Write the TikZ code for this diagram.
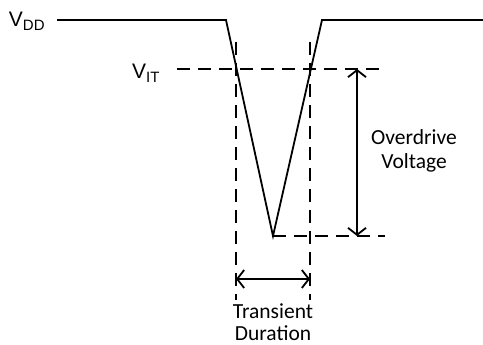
\documentclass[tikz,border=0pt]{standalone}
\usepackage{fontspec}
\setmainfont{Carlito}
\newfontfamily\arialf{Liberation Sans}
\usetikzlibrary{arrows.meta}
\tikzset{
  sig/.style={line width=1.8pt, line join=miter},
  dsh/.style={line width=1.8pt, dash pattern=on 13pt off 8pt},
  dim/.style={line width=1.8pt, {Straight Barb[length=7pt,width=18pt]}-{Straight Barb[length=7pt,width=18pt]}},
  lbl/.style={font=\fontsize{21.5}{23}\selectfont, align=center, inner sep=0pt},
  vlbl/.style={font=\arialf\fontsize{21}{22}\selectfont, inner sep=0pt, anchor=base}
}
\begin{document}
\begin{tikzpicture}[x=1pt,y=-1pt]
\useasboundingbox (0,0) rectangle (483,345);
% waveform
\coordinate (s0) at (57,20);
\coordinate (s1) at (226,20);
\coordinate (s2) at (273,236);
\coordinate (s3) at (322,20);
\coordinate (s4) at (483,20);
\draw[sig] (s0) -- (s1) -- (s2) -- (s3) -- (s4);
% labels
\node[vlbl] (vdd) at (27,27) {V\textsubscript{\fontsize{15}{16}\selectfont DD}};
\node[vlbl] (vit) at (146,79) {V\textsubscript{\fontsize{15}{16}\selectfont IT}};
% dashed references
\coordinate (h1a) at (177,69);
\coordinate (h1b) at (385,69);
\draw[dsh] (h1a) -- (h1b);
\coordinate (h2a) at (273,236);
\coordinate (h2b) at (385,236);
\draw[dsh] (h2a) -- (h2b);
\coordinate (v1a) at (236,42);
\coordinate (v1b) at (236,300);
\draw[dsh] (v1a) -- (v1b);
\coordinate (v2a) at (310,42);
\coordinate (v2b) at (310,300);
\draw[dsh] (v2a) -- (v2b);
% dimension arrows
\coordinate (oa) at (357,69);
\coordinate (ob) at (357,236);
\draw[dim] (oa) -- (ob);
\coordinate (ta) at (236,279);
\coordinate (tb) at (310,279);
\draw[dim] (ta) -- (tb);
% texts
\node[lbl, anchor=base] (ov1) at (414,145) {Overdrive};
\node[lbl, anchor=base] (ov2) at (414,168) {Voltage};
\node[lbl, anchor=base] (tr1) at (273,318) {Transient};
\node[lbl, anchor=base] (tr2) at (273,340) {Duration};
\end{tikzpicture}
\end{document}
